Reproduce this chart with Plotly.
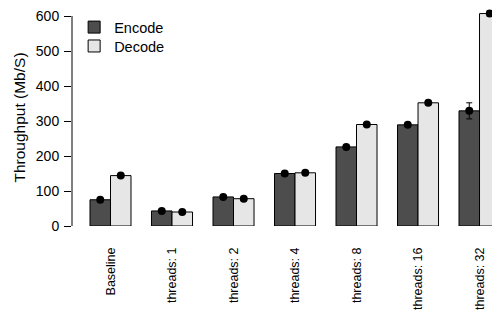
import plotly.graph_objects as go

categories = ["Baseline", "threads: 1", "threads: 2", "threads: 4", "threads: 8", "threads: 16", "threads: 32"]
encode = [75, 43, 83, 150, 226, 289, 329]
decode = [144, 40, 78, 152, 290, 352, 607]
encode_err = [2, 2, 2, 2, 2, 2, 23]
decode_err = [2, 2, 2, 2, 3, 2, 8]
y_ticks = [0, 100, 200, 300, 400, 500, 600]

FONT = "Liberation Sans, Arial, Helvetica, sans-serif"

fig = go.Figure()
fig.add_trace(go.Bar(x=categories, y=encode, name="Encode", legend="legend",
                     marker=dict(color="#4d4d4d", line=dict(color="black", width=1))))
fig.add_trace(go.Bar(x=categories, y=decode, name="Decode", legend="legend2",
                     marker=dict(color="#e6e6e6", line=dict(color="black", width=1))))
fig.add_trace(go.Scatter(x=categories, y=encode, mode="markers", showlegend=False,
                         marker=dict(color="black", size=8), cliponaxis=False,
                         error_y=dict(type="data", array=encode_err, color="black", thickness=1, width=3)))
fig.add_trace(go.Scatter(x=categories, y=decode, mode="markers", showlegend=False,
                         marker=dict(color="black", size=8), cliponaxis=False,
                         error_y=dict(type="data", array=decode_err, color="black", thickness=1, width=3)))

fig.add_shape(type="line", xref="paper", x0=0, x1=0, yref="y", y0=0, y1=600,
              line=dict(color="black", width=1))

legend_style = dict(xanchor="left", yanchor="top", bgcolor="rgba(0,0,0,0)",
                    font=dict(size=14.5), itemwidth=30)

fig.update_layout(
    width=492, height=314,
    margin=dict(l=64, r=0, t=1, b=96),
    paper_bgcolor="white", plot_bgcolor="white",
    barmode="group", bargap=0.333, bargroupgap=0,
    scattermode="group", scattergap=0.333,
    font=dict(family=FONT, size=13, color="black"),
    showlegend=True,
    legend=dict(x=0.005, y=0.99, **legend_style),
    legend2=dict(x=0.005, y=0.903, **legend_style),
    xaxis=dict(range=[-0.626, 6.333], showline=False, showgrid=False, zeroline=False,
               ticks="", tickangle=-90, ticklabelstandoff=18, tickfont=dict(size=12.5)),
    yaxis=dict(range=[0, 620], showline=False, showgrid=False, zeroline=False,
               tickvals=y_ticks, ticks="outside", ticklen=7, tickcolor="black",
               ticklabelstandoff=2, ticklabeloverflow="allow", tickfont=dict(size=14),
               title=dict(text="Throughput (Mb/S)", font=dict(size=15.5), standoff=6)),
)

fig.write_html("out.html")
